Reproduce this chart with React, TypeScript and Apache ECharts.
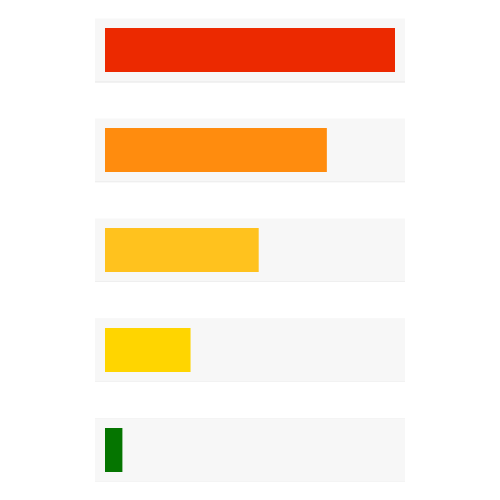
import * as echarts from 'echarts'
import { useEffect, useRef } from 'react'

const categories = ['A', 'B', 'C', 'D', 'E']
const values = [100, 76.5, 53, 29.5, 6]
const maxValue = 100
const barColors = ['#ec2900', '#ff8c0e', '#ffc21e', '#ffd500', '#057500']
const trackValues = categories.map(() => maxValue)

const App = () => {
  const containerRef = useRef<HTMLDivElement>(null)

  useEffect(() => {
    if (!containerRef.current) return
    const chart = echarts.init(containerRef.current, undefined, { renderer: 'svg' })

    const catAxis = (gridIndex: number) => ({
      type: 'category' as const,
      gridIndex,
      data: categories,
      inverse: true,
      show: false
    })
    const valAxis = (gridIndex: number) => ({
      type: 'value' as const,
      gridIndex,
      min: 0,
      max: maxValue,
      show: false
    })

    chart.setOption({
      animation: false,
      // grid 0: bottom border line of each track (shifted 1px down)
      // grid 1: light track, grid 2: actual bars with 10px inset
      grid: [
        { left: 95, right: 95, top: 1, height: 500 },
        { left: 95, right: 95, top: 0, height: 500 },
        { left: 105, right: 105, top: 0, height: 500 }
      ],
      xAxis: [valAxis(0), valAxis(1), valAxis(2)],
      yAxis: [catAxis(0), catAxis(1), catAxis(2)],
      series: [
        {
          type: 'bar',
          xAxisIndex: 0,
          yAxisIndex: 0,
          data: trackValues,
          barWidth: 63,
          silent: true,
          itemStyle: { color: '#e6e6e6' }
        },
        {
          type: 'bar',
          xAxisIndex: 1,
          yAxisIndex: 1,
          data: trackValues,
          barWidth: 63,
          silent: true,
          itemStyle: { color: '#f7f7f7' }
        },
        {
          type: 'bar',
          xAxisIndex: 2,
          yAxisIndex: 2,
          barWidth: 44,
          data: values.map((v, i) => ({ value: v, itemStyle: { color: barColors[i] } }))
        }
      ]
    })

    return () => chart.dispose()
  }, [])

  return (
    <div
      ref={containerRef}
      style={{ position: 'fixed', left: 0, top: 0, width: 500, height: 500 }}
    />
  )
}

export default App
